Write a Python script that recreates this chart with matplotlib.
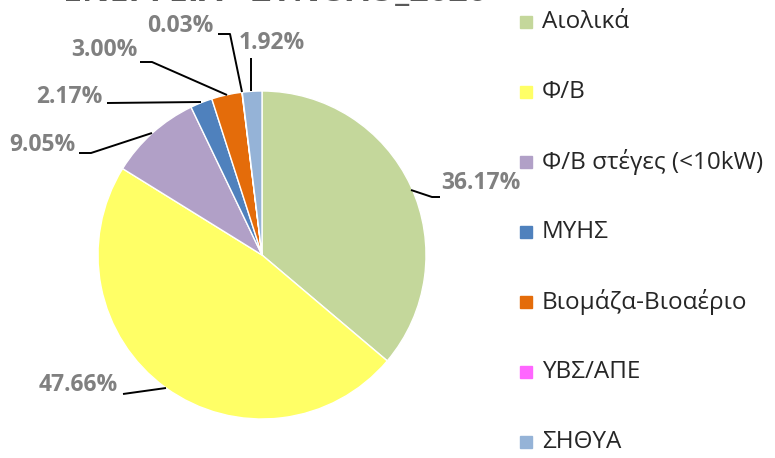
import matplotlib.pyplot as plt

categories = ['Αιολικά', 'Φ/Β', 'Φ/Β στέγες (<10kW)', 'ΜΥΗΣ',
              'Βιομάζα-Βιοαέριο', 'ΥΒΣ/ΑΠΕ', 'ΣΗΘΥΑ']
shares = [36.17, 47.66, 9.05, 2.17, 3.00, 0.03, 1.92]
colors = ['#C4D79B', '#FFFF66', '#B1A0C7', '#4F81BD', '#E46C0A', '#FF66FF', '#95B3D7']
title = 'ΕΝΕΡΓΕΙΑ - ΣΥΝΟΛΟ_2020'

W, H = 775, 458
fig = plt.figure(figsize=(W / 100, H / 100), dpi=100)
ax = fig.add_axes([0, 0, 1, 1])
ax.set_xlim(0, W)
ax.set_ylim(0, H)
ax.set_aspect('equal')
ax.axis('off')

cx, cy, r = 262, H - 255, 164
wedges, _ = ax.pie(shares, colors=colors, startangle=90, counterclock=False,
                   center=(cx, cy), radius=r,
                   wedgeprops=dict(edgecolor='white', linewidth=1))
ax.set_xlim(0, W)
ax.set_ylim(0, H)

# label text anchor (px, y down), alignment, leader line points (px, y down)
label_pos = [
    (441, 183, 'left', [(411, 190), (432, 197), (440, 197)]),
    (118, 385, 'right', [(166, 388), (123, 394)]),
    (75, 145, 'right', [(152, 133), (91, 153), (79, 153)]),
    (103, 97, 'right', [(201, 102), (107, 103)]),
    (138, 50, 'right', [(227, 95), (152, 62), (140, 62)]),
    (214, 26, 'right', [(242, 92), (230, 34), (218, 34)]),
    (239, 43, 'left', [(251, 91), (251, 58)]),
]
for v, (tx, ty, ha, pts) in zip(shares, label_pos):
    ax.text(tx, H - ty, f'{v:.2f}%', ha=ha, va='center', fontsize=16.5,
            fontweight='bold', color='#808080', family='Open Sans')
    ax.plot([p[0] for p in pts], [H - p[1] for p in pts], color='black', lw=1.4,
            solid_capstyle='butt')

# title is cut off at the top edge, as in the original
fig.text(63 / W, 1 - 1.5 / H, title, ha='left', va='baseline', fontsize=24.5,
         fontweight='bold', color='#595959', family='Open Sans')

# legend
for i, (name, c) in enumerate(zip(categories, colors)):
    y = 22 + 70 * i
    ax.add_patch(plt.Rectangle((520, H - y - 6), 12, 12, color=c))
    ax.text(542, H - y, name, ha='left', va='center', fontsize=17.5,
            color='#262626', family='Open Sans')

fig.savefig('out.png', dpi=100)
